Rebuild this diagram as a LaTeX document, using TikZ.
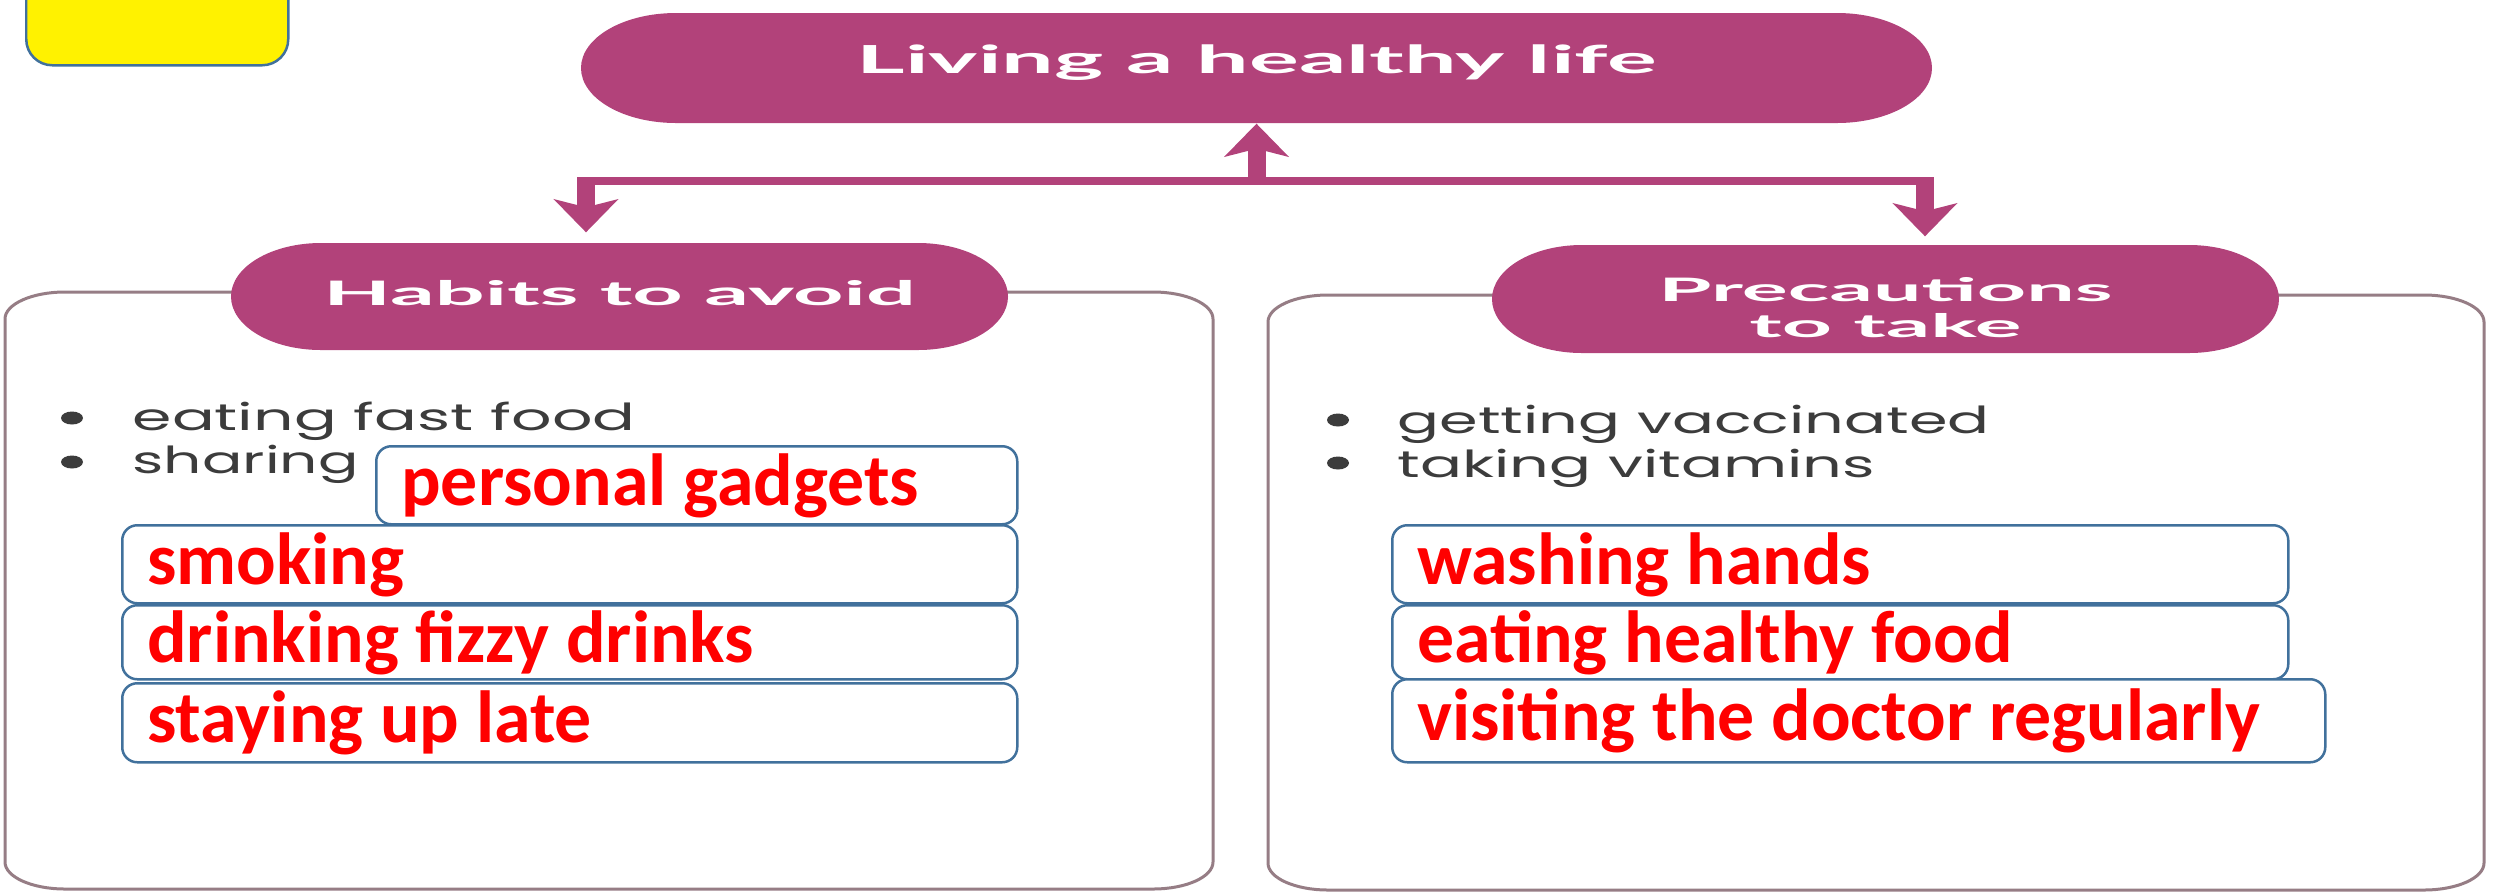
\documentclass[tikz,border=0pt]{standalone}
\usepackage{fontspec}
\usepackage{graphicx}
\usetikzlibrary{arrows.meta,calc}
\newfontfamily\titlefont{Lato}
\newfontfamily\redfont{Carlito}
\newfontfamily\bulfont{Poppins}
\definecolor{mag}{RGB}{178,66,122}
\definecolor{boxblue}{RGB}{65,113,156}
\definecolor{framec}{RGB}{150,125,133}
\definecolor{bultxt}{RGB}{60,60,60}
% elliptically rounded rectangle: style, x1, ytop, x2, ybottom, rx, ry (cm)
\newcommand{\ellbox}[7]{%
  \path[#1] ({#2+#6},#3) -- ({#4-#6},#3)
    arc[start angle=90,end angle=0,x radius=#6 cm,y radius=#7 cm]
    -- (#4,{#5+#7})
    arc[start angle=0,end angle=-90,x radius=#6 cm,y radius=#7 cm]
    -- ({#2+#6},#5)
    arc[start angle=-90,end angle=-180,x radius=#6 cm,y radius=#7 cm]
    -- (#2,{#3-#7})
    arc[start angle=180,end angle=90,x radius=#6 cm,y radius=#7 cm] -- cycle;}
\tikzset{
  pilltext/.style={inner sep=0pt, text=white, align=center},
  hbar/.style={draw=mag, line width=0.08cm},
  vconn/.style={draw=mag, line width=0.18cm, -{Stealth[length=0.33cm,width=0.64cm,inset=0.08cm]}},
  bultext/.style={inner sep=0pt, anchor=base west, text=bultxt, font=\bulfont\fontsize{10.6pt}{12pt}\selectfont},
  redbox/.style={draw=boxblue, line width=0.025cm, fill=white, rounded corners=0.15cm,
    anchor=north west, inner xsep=0.25cm, inner ysep=0pt, text height=0.55cm, text depth=0.15cm,
    text=red, font=\redfont\bfseries\fontsize{21pt}{25pt}\selectfont},
  yellowbox/.style={draw=boxblue, line width=0.025cm, fill=yellow, rounded corners=0.26cm, inner sep=0pt}
}
\begin{document}
\begin{tikzpicture}
\useasboundingbox (0,0) rectangle (24.96,-8.94);
\clip (0,0) rectangle (24.96,-8.94);

% yellow box
\node[yellowbox, minimum width=2.62cm, minimum height=1.10cm, anchor=north west] (ybox) at (0.25,0.46) {};

% outer frames
\ellbox{draw=framec, line width=0.03cm, fill=white}{0.05}{-2.92}{12.13}{-8.89}{0.6}{0.27}
\ellbox{draw=framec, line width=0.03cm, fill=white}{12.68}{-2.95}{24.84}{-8.90}{0.6}{0.27}

% pills
\ellbox{fill=mag}{5.81}{-0.13}{19.32}{-1.23}{0.95}{0.55}
\ellbox{fill=mag}{2.31}{-2.43}{10.08}{-3.50}{0.9}{0.535}
\ellbox{fill=mag}{14.92}{-2.45}{22.79}{-3.53}{0.9}{0.54}

\node[pilltext, minimum width=13.51cm, minimum height=1.10cm, text height=0.28cm, text depth=0.17cm,
  font=\titlefont\bfseries\fontsize{11pt}{13pt}\selectfont] (top) at (12.565,-0.68)
  {\resizebox{8.0cm}{\height}{Living a healthy life}};
\node[pilltext, minimum width=7.77cm, minimum height=1.07cm, text height=0.26cm, text depth=0.08cm,
  font=\titlefont\bfseries\fontsize{9.6pt}{11pt}\selectfont] (habits) at (6.195,-2.965)
  {\resizebox{5.92cm}{\height}{Habits to avoid}};
\node[pilltext, minimum width=7.87cm, minimum height=1.08cm, text height=0.80cm, text depth=0.04cm,
  font=\titlefont\bfseries\fontsize{9.2pt}{10.24pt}\selectfont] (prec) at (18.855,-2.99)
  {\resizebox{4.54cm}{\height}{Precautions}\\\resizebox{2.72cm}{\height}{to take}};

% connectors
\coordinate (barL) at (5.86,-1.81);
\coordinate (barR) at (19.25,-1.81);
\draw[hbar] ([xshift=-0.09cm]barL) -- ([xshift=0.09cm]barR);
\draw[vconn] (top.south |- barL) -- (top.south);
\draw[vconn] ([yshift=0.04cm]barL) -- ($(barL |- habits.north)+(0,0.10)$);
\draw[vconn] ([yshift=0.04cm]barR) -- ($(barR |- prec.north)+(0,0.08)$);

% bullets
\fill[bultxt] (0.72,-4.18) ellipse [x radius=0.11cm, y radius=0.065cm];
\fill[bultxt] (0.72,-4.62) ellipse [x radius=0.11cm, y radius=0.065cm];
\fill[bultxt] (13.38,-4.20) ellipse [x radius=0.11cm, y radius=0.065cm];
\fill[bultxt] (13.38,-4.63) ellipse [x radius=0.11cm, y radius=0.065cm];
\node[bultext] (b1) at (1.32,-4.30) {\resizebox{5.03cm}{\height}{eating fast food}};
\node[bultext] (b2) at (1.32,-4.73) {\resizebox{2.26cm}{\height}{sharing}};
\node[bultext] (b3) at (13.97,-4.33) {\resizebox{5.92cm}{\height}{getting vaccinated}};
\node[bultext] (b4) at (13.97,-4.77) {\resizebox{4.77cm}{\height}{taking vitamins}};

% red answer boxes
\node[redbox, minimum height=0.78cm] (r1) at (3.75,-4.45) {\makebox[5.91cm][l]{personal gadgets}};
\node[redbox, minimum height=0.78cm] (r2) at (1.21,-5.24) {\makebox[8.45cm][l]{smoking}};
\node[redbox, minimum height=0.74cm] (r3) at (1.21,-6.04) {\makebox[8.45cm][l]{drinking fizzy drinks}};
\node[redbox, minimum height=0.79cm] (r4) at (1.21,-6.82) {\makebox[8.45cm][l]{staying up late}};
\node[redbox, minimum height=0.78cm] (r5) at (13.91,-5.24) {\makebox[8.46cm][l]{washing hands}};
\node[redbox, minimum height=0.74cm] (r6) at (13.91,-6.04) {\makebox[8.46cm][l]{eating healthy food}};
\node[redbox, minimum height=0.83cm] (r7) at (13.91,-6.78) {\makebox[8.83cm][l]{visiting the doctor regularly}};
\end{tikzpicture}
\end{document}
